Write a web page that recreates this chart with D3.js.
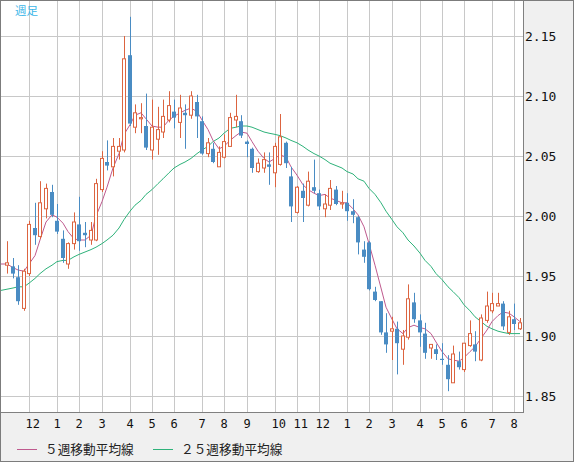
<!DOCTYPE html>
<html>
<head>
<meta charset="utf-8">
<script src="https://cdn.jsdelivr.net/npm/d3@7"></script>
<style>
  body { margin: 0; background: #f0f0f0; }
  svg { display: block; }
</style>
</head>
<body>
<svg id="pic" width="574" height="462"></svg>
<script>
// weekly candles, oldest first
var opens  = [1.959,1.958,1.949,1.923,1.952,1.990,1.983,2.006,2.020,1.996,1.981,1.960,1.977,1.993,1.986,1.980,1.980,2.022,2.045,2.041,
              2.054,2.055,2.134,2.074,2.081,2.075,2.055,2.064,2.070,2.080,2.087,2.078,2.086,2.084,2.095,2.079,2.052,2.056,2.041,2.049,
              2.058,2.080,2.079,2.062,2.056,2.037,2.040,2.043,2.036,2.043,2.061,2.033,2.003,2.021,2.009,2.024,2.019,2.006,2.009,2.022,
              2.010,2.011,2.004,1.999,1.972,1.978,1.937,1.929,1.903,1.904,1.906,1.889,1.899,1.928,1.913,1.902,1.890,1.889,1.881,1.876,
              1.861,1.879,1.872,1.892,1.893,1.880,1.913,1.921,1.925,1.927,1.903,1.914,1.906];
var highs  = [1.979,1.965,1.959,1.956,1.996,2.011,2.029,2.027,2.026,2.010,1.988,1.978,2.003,2.016,1.995,1.995,2.031,2.054,2.063,2.065,
              2.065,2.150,2.166,2.093,2.094,2.102,2.097,2.091,2.097,2.104,2.097,2.101,2.093,2.104,2.101,2.083,2.065,2.061,2.058,2.068,
              2.086,2.101,2.084,2.063,2.057,2.048,2.053,2.053,2.061,2.085,2.062,2.041,2.025,2.027,2.037,2.047,2.022,2.018,2.030,2.025,
              2.021,2.019,2.014,2.000,1.979,1.979,1.941,1.929,1.919,1.916,1.912,1.905,1.943,1.936,1.918,1.911,1.893,1.893,1.894,1.884,
              1.892,1.887,1.894,1.913,1.904,1.918,1.937,1.936,1.936,1.929,1.921,1.927,1.915];
var lows   = [1.952,1.948,1.926,1.921,1.950,1.976,1.981,1.998,1.999,1.985,1.961,1.956,1.972,1.971,1.974,1.976,1.979,2.020,2.038,2.033,
              2.047,2.053,2.075,2.069,2.069,2.055,2.047,2.051,2.065,2.078,2.073,2.065,2.056,2.081,2.065,2.051,2.049,2.044,2.041,2.048,
              2.058,2.074,2.065,2.049,2.036,2.036,2.036,2.026,2.024,2.042,2.040,1.995,2.002,1.995,2.008,2.019,2.005,1.999,2.005,2.009,
              2.006,1.996,1.994,1.968,1.961,1.938,1.929,1.901,1.886,1.880,1.868,1.876,1.897,1.911,1.891,1.881,1.881,1.880,1.876,1.854,
              1.861,1.872,1.870,1.891,1.879,1.879,1.911,1.919,1.925,1.905,1.901,1.905,1.905];
var closes = [1.961,1.952,1.929,1.954,1.993,1.984,2.011,2.023,2.001,1.987,1.965,1.977,1.995,1.979,1.984,1.988,2.027,2.048,2.042,2.058,
              2.058,2.131,2.077,2.086,2.082,2.057,2.074,2.072,2.083,2.092,2.082,2.090,2.084,2.100,2.083,2.052,2.061,2.045,2.053,2.062,
              2.082,2.083,2.067,2.060,2.040,2.044,2.047,2.041,2.058,2.066,2.044,2.008,2.024,2.015,2.029,2.021,2.008,2.010,2.023,2.010,
              2.011,2.004,2.001,1.978,1.966,1.939,1.930,1.903,1.893,1.906,1.894,1.900,1.931,1.914,1.903,1.886,1.893,1.885,1.880,1.864,
              1.885,1.874,1.894,1.902,1.887,1.915,1.925,1.927,1.927,1.908,1.916,1.910,1.911];

// moving averages; first value is the week before the first candle
var ma5  = [1.960,1.960,1.957,1.955,1.954,1.960,1.967,1.980,1.995,2.001,1.999,1.994,1.987,1.981,1.980,1.980,1.984,2.000,2.012,2.024,2.040,
            2.052,2.068,2.076,2.084,2.086,2.081,2.075,2.074,2.074,2.080,2.083,2.086,2.088,2.090,2.087,2.080,2.072,2.063,2.056,2.058,
            2.063,2.067,2.070,2.069,2.062,2.054,2.048,2.045,2.048,2.051,2.049,2.041,2.034,2.026,2.022,2.019,2.017,2.018,2.015,2.013,
            2.011,2.011,2.006,2.001,1.991,1.977,1.959,1.940,1.924,1.914,1.906,1.902,1.907,1.909,1.907,1.906,1.902,1.895,1.887,1.881,
            1.880,1.879,1.882,1.887,1.891,1.898,1.905,1.912,1.917,1.920,1.919,1.916,1.912];
var ma25 = [1.938,1.939,1.940,1.941,1.941,1.944,1.948,1.952,1.956,1.959,1.962,1.963,1.963,1.966,1.968,1.970,1.972,1.974,1.977,1.980,1.984,
            1.990,1.997,2.004,2.009,2.013,2.018,2.022,2.027,2.031,2.036,2.040,2.043,2.045,2.048,2.052,2.055,2.058,2.062,2.065,2.069,
            2.073,2.074,2.075,2.075,2.074,2.072,2.070,2.069,2.068,2.067,2.065,2.063,2.061,2.058,2.055,2.052,2.050,2.047,2.044,2.042,
            2.040,2.037,2.035,2.031,2.029,2.023,2.018,2.011,2.004,1.997,1.991,1.986,1.980,1.975,1.969,1.963,1.958,1.952,1.947,1.941,
            1.937,1.932,1.926,1.921,1.916,1.912,1.908,1.906,1.904,1.903,1.902,1.902,1.902];

// first week of each month (candle index) and its label
var monthWeeks  = [4, 9, 13, 17, 22, 26, 30, 35, 39, 43, 48, 52, 56, 61, 65, 69, 74, 78, 82, 87, 91];
var monthLabels = ["12","1","2","3","4","5","6","7","8","9","10","11","12","1","2","3","4","5","6","7","8"];
var priceTicks  = [1.85, 1.90, 1.95, 2.00, 2.05, 2.10, 2.15];

var legendNames = ["５週移動平均線", "２５週移動平均線"];

var W = 574, H = 462;
var plotR = 523, plotB = 412;
var upColor = "#dc6440", downColor = "#4a8cc3";
var ma5Color = "#bf5a8e", ma25Color = "#2eb27a";

var svg = d3.select("#pic");

svg.append("rect").attr("width", W).attr("height", H).attr("fill", "#f0f0f0");
svg.append("rect").attr("x", 0).attr("y", 0).attr("width", plotR).attr("height", plotB).attr("fill", "#fff");

var x = d3.scaleLinear().domain([0, closes.length - 1]).rangeRound([7, 520]);
var y = d3.scaleLinear().domain([1.85, 2.15]).range([396, 36]);

svg.append("clipPath").attr("id", "clip")
  .append("rect").attr("x", 1).attr("y", 1).attr("width", plotR - 1).attr("height", plotB - 1);

//grid
var gx = svg.append("g").attr("transform", "translate(0," + plotB + ")")
  .call(d3.axisBottom(x).tickValues(monthWeeks).tickSize(-plotB).tickFormat(""));
var gy = svg.append("g").attr("transform", "translate(" + plotR + ",0)")
  .call(d3.axisLeft(y).tickValues(priceTicks).tickSize(plotR).tickFormat(""));
[gx, gy].forEach(function(g){
  g.select(".domain").remove();
  g.selectAll("line").attr("stroke", "#c8c8c8");
});

var plot = svg.append("g").attr("clip-path", "url(#clip)");

//moving averages
var maLine = function(arr){
  return d3.line().x(function(d, i){ return x(i - 1); }).y(function(d){ return y(d); })(arr);
};
plot.append("path").attr("d", maLine(ma25)).attr("fill", "none").attr("stroke", ma25Color).attr("stroke-width", 1);
plot.append("path").attr("d", maLine(ma5)).attr("fill", "none").attr("stroke", ma5Color).attr("stroke-width", 1);

//candles
var candles = plot.selectAll("g.candle").data(closes).enter().append("g").attr("class", "candle");
candles.append("line")
  .attr("x1", function(d, i){ return x(i) + 0.5; })
  .attr("x2", function(d, i){ return x(i) + 0.5; })
  .attr("y1", function(d, i){ return y(highs[i]); })
  .attr("y2", function(d, i){ return y(lows[i]); })
  .attr("stroke", function(d, i){ return d >= opens[i] ? upColor : downColor; });
candles.append("rect")
  .attr("x", function(d, i){ return d >= opens[i] ? x(i) - 1.5 : x(i) - 2; })
  .attr("width", function(d, i){ return d >= opens[i] ? 3 : 4; })
  .attr("y", function(d, i){ return y(Math.max(d, opens[i])); })
  .attr("height", function(d, i){ return Math.max(1, Math.abs(y(d) - y(opens[i]))); })
  .attr("fill", function(d, i){ return d >= opens[i] ? "#fff" : downColor; })
  .attr("stroke", function(d, i){ return d >= opens[i] ? upColor : "none"; })
  .attr("stroke-width", 1);

//axes text
var ya = svg.append("g").attr("transform", "translate(" + plotR + ",0)")
  .call(d3.axisRight(y).tickValues(priceTicks).tickSize(0).tickPadding(2).tickFormat(d3.format(".2f")));
ya.select(".domain").remove();
ya.selectAll("text").attr("font-family", "DejaVu Sans Mono").attr("font-size", 13).attr("fill", "#111");

var xa = svg.append("g").attr("transform", "translate(0," + plotB + ")")
  .call(d3.axisBottom(x).tickValues(monthWeeks).tickSize(0).tickPadding(7)
    .tickFormat(function(d, i){ return monthLabels[i]; }));
xa.select(".domain").remove();
xa.selectAll("text").attr("font-family", "DejaVu Sans Mono").attr("font-size", 12).attr("fill", "#111")
  .attr("text-anchor", "start").attr("dx", -4);

//frame
svg.append("line").attr("x1", plotR + 0.5).attr("x2", plotR + 0.5).attr("y1", 0).attr("y2", plotB + 1).attr("stroke", "#808080");
svg.append("line").attr("x1", 0).attr("x2", plotR + 1).attr("y1", plotB + 0.5).attr("y2", plotB + 0.5).attr("stroke", "#808080");
svg.append("rect").attr("x", 0.5).attr("y", 0.5).attr("width", W - 1).attr("height", H - 1)
  .attr("fill", "none").attr("stroke", "#7c7c7c");

svg.append("text").attr("x", 15).attr("y", 15).text("週足")
  .attr("font-family", "Noto Sans CJK JP").attr("font-size", 11.5).attr("fill", "#3cb6e8");

//legend
var legendX = [17, 153];
var legendColors = [ma5Color, ma25Color];
legendNames.forEach(function(name, i){
  svg.append("line").attr("x1", legendX[i]).attr("x2", legendX[i] + 20).attr("y1", 449.5).attr("y2", 449.5)
    .attr("stroke", legendColors[i]);
  svg.append("text").attr("x", legendX[i] + 28).attr("y", 454).text(name)
    .attr("font-family", "Noto Sans CJK JP").attr("font-size", 12.7).attr("fill", "#222");
});
</script>
</body>
</html>
